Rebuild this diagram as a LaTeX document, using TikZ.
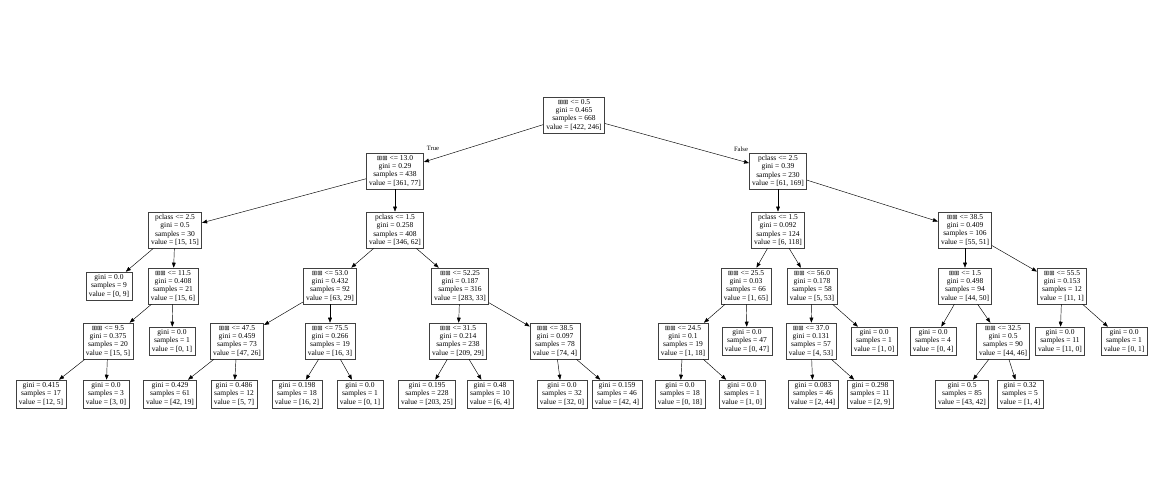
\documentclass[tikz,border=0pt]{standalone}
\usepackage{fontspec}
\setmainfont{Liberation Serif}
\newfontfamily\boxfont{DejaVu Sans}
\usetikzlibrary{arrows.meta}
\newcommand{\tofu}{{\boxfont\fontsize{6.4}{8}\selectfont ⊞⊞}}

\begin{document}
\begin{tikzpicture}[x=1pt,y=-1pt,
  tn/.style={draw=black!75,line width=0.6pt,fill=white,align=center,
    font=\fontsize{7.5}{8.1}\selectfont,inner sep=2.8pt},
  edge/.style={-{Triangle[length=5pt,width=3.8pt]},line width=0.45pt},
  lab/.style={font=\fontsize{6.6}{7}\selectfont}]
  \useasboundingbox (0,0) rectangle (1167,483);
  % root and first splits
  \node[tn] (t)   at (574,115) {\tofu{} <= 0.5\\gini = 0.465\\samples = 668\\value = [422, 246]};
  \node[tn] (tL)  at (395,171) {\tofu{} <= 13.0\\gini = 0.29\\samples = 438\\value = [361, 77]};
  \node[tn] (tR)  at (778,171) {pclass <= 2.5\\gini = 0.39\\samples = 230\\value = [61, 169]};
  % level 2
  \node[tn] (tLL) at (175,230) {pclass <= 2.5\\gini = 0.5\\samples = 30\\value = [15, 15]};
  \node[tn] (tLR) at (395,230) {pclass <= 1.5\\gini = 0.258\\samples = 408\\value = [346, 62]};
  \node[tn] (tRL) at (778,230) {pclass <= 1.5\\gini = 0.092\\samples = 124\\value = [6, 118]};
  \node[tn] (tRR) at (965,230) {\tofu{} <= 38.5\\gini = 0.409\\samples = 106\\value = [55, 51]};
  % level 3
  \node[tn] (tLLL) at (109,286) {gini = 0.0\\samples = 9\\value = [0, 9]};
  \node[tn] (tLLR) at (173,286) {\tofu{} <= 11.5\\gini = 0.408\\samples = 21\\value = [15, 6]};
  \node[tn] (tLRL) at (330,286) {\tofu{} <= 53.0\\gini = 0.432\\samples = 92\\value = [63, 29]};
  \node[tn] (tLRR) at (460,286) {\tofu{} <= 52.25\\gini = 0.187\\samples = 316\\value = [283, 33]};
  \node[tn] (tRLL) at (746,286) {\tofu{} <= 25.5\\gini = 0.03\\samples = 66\\value = [1, 65]};
  \node[tn] (tRLR) at (812,286) {\tofu{} <= 56.0\\gini = 0.178\\samples = 58\\value = [5, 53]};
  \node[tn] (tRRL) at (965,286) {\tofu{} <= 1.5\\gini = 0.498\\samples = 94\\value = [44, 50]};
  \node[tn] (tRRR) at (1062,286) {\tofu{} <= 55.5\\gini = 0.153\\samples = 12\\value = [11, 1]};
  % level 4
  \node[tn] (tLLRL) at (108,341) {\tofu{} <= 9.5\\gini = 0.375\\samples = 20\\value = [15, 5]};
  \node[tn] (tLLRR) at (172,341) {gini = 0.0\\samples = 1\\value = [0, 1]};
  \node[tn] (tLRLL) at (237,341) {\tofu{} <= 47.5\\gini = 0.459\\samples = 73\\value = [47, 26]};
  \node[tn] (tLRLR) at (330,341) {\tofu{} <= 75.5\\gini = 0.266\\samples = 19\\value = [16, 3]};
  \node[tn] (tLRRL) at (458,341) {\tofu{} <= 31.5\\gini = 0.214\\samples = 238\\value = [209, 29]};
  \node[tn] (tLRRR) at (555,341) {\tofu{} <= 38.5\\gini = 0.097\\samples = 78\\value = [74, 4]};
  \node[tn] (tRLLL) at (683,341) {\tofu{} <= 24.5\\gini = 0.1\\samples = 19\\value = [1, 18]};
  \node[tn] (tRLLR) at (747,341) {gini = 0.0\\samples = 47\\value = [0, 47]};
  \node[tn] (tRLRL) at (811,341) {\tofu{} <= 37.0\\gini = 0.131\\samples = 57\\value = [4, 53]};
  \node[tn] (tRLRR) at (874,341) {gini = 0.0\\samples = 1\\value = [1, 0]};
  \node[tn] (tRRLL) at (933,341) {gini = 0.0\\samples = 4\\value = [0, 4]};
  \node[tn] (tRRLR) at (1003,341) {\tofu{} <= 32.5\\gini = 0.5\\samples = 90\\value = [44, 46]};
  \node[tn] (tRRRL) at (1060,341) {gini = 0.0\\samples = 11\\value = [11, 0]};
  \node[tn] (tRRRR) at (1124,341) {gini = 0.0\\samples = 1\\value = [0, 1]};
  % leaves
  \node[tn] (tLLRLL) at (41,394)  {gini = 0.415\\samples = 17\\value = [12, 5]};
  \node[tn] (tLLRLR) at (106,394) {gini = 0.0\\samples = 3\\value = [3, 0]};
  \node[tn] (tLRLLL) at (170,394) {gini = 0.429\\samples = 61\\value = [42, 19]};
  \node[tn] (tLRLLR) at (234,394) {gini = 0.486\\samples = 12\\value = [5, 7]};
  \node[tn] (tLRLRL) at (297,394) {gini = 0.198\\samples = 18\\value = [16, 2]};
  \node[tn] (tLRLRR) at (360,394) {gini = 0.0\\samples = 1\\value = [0, 1]};
  \node[tn] (tLRRLL) at (427,394) {gini = 0.195\\samples = 228\\value = [203, 25]};
  \node[tn] (tLRRLR) at (490,394) {gini = 0.48\\samples = 10\\value = [6, 4]};
  \node[tn] (tLRRRL) at (562,394) {gini = 0.0\\samples = 32\\value = [32, 0]};
  \node[tn] (tLRRRR) at (617,394) {gini = 0.159\\samples = 46\\value = [42, 4]};
  \node[tn] (tRLLLL) at (680,394) {gini = 0.0\\samples = 18\\value = [0, 18]};
  \node[tn] (tRLLLR) at (742,394) {gini = 0.0\\samples = 1\\value = [1, 0]};
  \node[tn] (tRLRLL) at (813,394) {gini = 0.083\\samples = 46\\value = [2, 44]};
  \node[tn] (tRLRLR) at (870,394) {gini = 0.298\\samples = 11\\value = [2, 9]};
  \node[tn] (tRRLRL) at (962,394) {gini = 0.5\\samples = 85\\value = [43, 42]};
  \node[tn] (tRRLRR) at (1020,394) {gini = 0.32\\samples = 5\\value = [1, 4]};
  % connectors
  \foreach \p/\c in {t/tL,t/tR,tL/tLL,tL/tLR,tR/tRL,tR/tRR,
      tLL/tLLL,tLL/tLLR,tLR/tLRL,tLR/tLRR,tRL/tRLL,tRL/tRLR,tRR/tRRL,tRR/tRRR,
      tLLR/tLLRL,tLLR/tLLRR,tLRL/tLRLL,tLRL/tLRLR,tLRR/tLRRL,tLRR/tLRRR,
      tRLL/tRLLL,tRLL/tRLLR,tRLR/tRLRL,tRLR/tRLRR,tRRL/tRRLL,tRRL/tRRLR,
      tRRR/tRRRL,tRRR/tRRRR,
      tLLRL/tLLRLL,tLLRL/tLLRLR,tLRLL/tLRLLL,tLRLL/tLRLLR,tLRLR/tLRLRL,tLRLR/tLRLRR,
      tLRRL/tLRRLL,tLRRL/tLRRLR,tLRRR/tLRRRL,tLRRR/tLRRRR,tRLLL/tRLLLL,tRLLL/tRLLLR,
      tRLRL/tRLRLL,tRLRL/tRLRLR,tRRLR/tRRLRL,tRRLR/tRRLRR}
    \draw[edge] (\p) -- (\c);
  \node[lab] (tTrue) at (433,148) {True};
  \node[lab] (tFalse) at (741,149) {False};
\end{tikzpicture}
\end{document}
